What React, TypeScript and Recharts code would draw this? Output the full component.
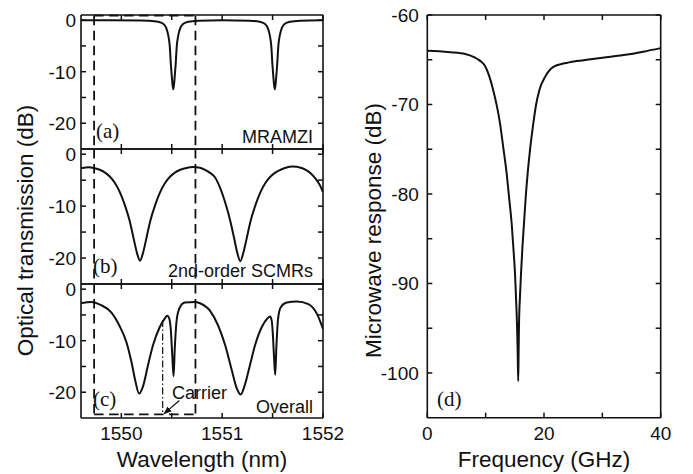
import React from 'react';
import { LineChart, Line, XAxis, YAxis, ReferenceLine } from 'recharts';

// ---------------- data ----------------
const wlTicks = [1550, 1550.5, 1551, 1551.5, 1552];
const wlTickLabels = [1550, 1551, 1552];
const dbTicks = [-20, -15, -10, -5, 0];
const dbTickLabels = [0, -10, -20];

// (a) MRAMZI
const mramziWavelength = [
  1549.6, 1549.9, 1550.2, 1550.265, 1550.365, 1550.415, 1550.445, 1550.465, 1550.48, 1550.492,
  1550.5, 1550.507, 1550.515, 1550.523, 1550.53, 1550.538, 1550.55, 1550.565, 1550.585, 1550.615,
  1550.665, 1550.765, 1551.0, 1551.272, 1551.372, 1551.422, 1551.452, 1551.472, 1551.487, 1551.499,
  1551.507, 1551.514, 1551.522, 1551.53, 1551.537, 1551.545, 1551.557, 1551.572, 1551.592, 1551.622,
  1551.672, 1551.772, 1552.0,
];
const mramziDb = [
  0, 0, -0.05, -0.1, -0.3, -0.7, -1.5, -2.9, -5.0, -8.8,
  -10.8, -12.4, -13.4, -12.4, -10.8, -8.8, -5.0, -2.9, -1.5, -0.7,
  -0.3, -0.1, 0, -0.1, -0.3, -0.7, -1.5, -2.9, -5.0, -8.8,
  -10.8, -12.4, -13.4, -12.4, -10.8, -8.8, -5.0, -2.9, -1.5, -0.7,
  -0.3, -0.1, 0,
];

// (b) 2nd-order SCMRs
const scmrWavelength = [
  1549.6, 1549.68, 1549.735, 1549.785, 1549.835, 1549.885, 1549.935, 1549.985, 1550.035, 1550.085,
  1550.125, 1550.155, 1550.185, 1550.215, 1550.245, 1550.285, 1550.335, 1550.385, 1550.435, 1550.485,
  1550.535, 1550.585, 1550.635, 1550.71, 1550.78, 1550.83, 1550.88, 1550.93, 1550.98, 1551.03,
  1551.08, 1551.12, 1551.15, 1551.18, 1551.21, 1551.24, 1551.28, 1551.33, 1551.38, 1551.43,
  1551.48, 1551.53, 1551.58, 1551.63, 1551.7, 1551.78, 1551.83, 1551.88, 1551.93, 1551.97, 1552.0,
];
const scmrDb = [
  -2.7, -2.5, -2.7, -3.0, -3.5, -4.3, -5.5, -7.3, -9.8, -13.0,
  -16.5, -19.0, -20.5, -19.0, -16.5, -13.0, -9.8, -7.3, -5.5, -4.3,
  -3.5, -3.0, -2.7, -2.45, -2.6, -3.0, -3.6, -4.5, -6.5, -9.3,
  -12.8, -16.3, -19.0, -20.6, -19.0, -16.5, -13.0, -9.8, -7.3, -5.5,
  -4.3, -3.5, -3.0, -2.6, -2.35, -2.6, -3.0, -3.7, -4.8, -6.0, -7.3,
];

// (c) Overall
const overallWavelength = [
  1549.6, 1549.7, 1549.8, 1549.9, 1549.98, 1550.05, 1550.1, 1550.14, 1550.175, 1550.215,
  1550.265, 1550.314, 1550.38, 1550.43, 1550.456, 1550.475, 1550.49, 1550.505, 1550.518, 1550.53,
  1550.55, 1550.58, 1550.63, 1550.73, 1550.78, 1550.88, 1550.96, 1551.03, 1551.095, 1551.144,
  1551.184, 1551.226, 1551.276, 1551.326, 1551.392, 1551.448, 1551.475, 1551.492, 1551.505, 1551.515,
  1551.526, 1551.537, 1551.554, 1551.58, 1551.64, 1551.74, 1551.855, 1551.94, 1552.0,
];
const overallDb = [
  -2.7, -2.47, -3.1, -4.5, -7.05, -10.25, -14.1, -17.9, -20.25, -18.85,
  -14.7, -10.9, -7.4, -5.7, -5.15, -5.7, -7.7, -12.8, -16.9, -11.5,
  -5.8, -3.55, -2.6, -2.47, -2.73, -4.2, -7.05, -10.9, -15.7, -19.2,
  -20.45, -18.5, -14.7, -10.9, -7.4, -5.7, -5.3, -6.2, -9.5, -13.5,
  -16.6, -11.5, -5.8, -3.55, -2.6, -2.4, -2.9, -4.8, -7.7,
];

// markers in the optical panels
const passbandEdges = [1549.73, 1550.735];
const windowTopDb = 0.86;
const windowBottomDb = -24.3;
const carrierWavelength = 1550.41;
const carrierTopDb = -6.0;
const arrowStart = { x: 1550.575, y: -21.6 };
const arrowEnd = { x: 1550.425, y: -24.15 };

// (d) microwave response
const freqTicks = [0, 10, 20, 30, 40];
const freqTickLabels = [0, 20, 40];
const respTicks = [-100, -95, -90, -85, -80, -75, -70, -65, -60];
const respTickLabels = [-100, -90, -80, -70, -60];
const frequencyGHz = [
  0, 2, 4, 6.5, 8, 9, 9.9, 10.6, 11.3, 11.9, 12.46, 13.0, 13.6, 14.0, 14.46, 14.75, 15.03, 15.2,
  15.37, 15.48, 15.58, 15.65, 15.72, 15.88, 16.06, 16.3, 16.57, 16.85, 17.2, 17.65, 18.17, 18.65,
  19.2, 20.2, 21.6, 23.5, 25.5, 28, 31, 34, 37, 40,
];
const microwaveDb = [
  -64.0, -64.05, -64.15, -64.35, -64.7, -65.1, -65.7, -66.8, -68.4, -70.1, -72.1, -74.7, -77.7, -80.3, -83.3, -86.0, -88.9, -91.5,
  -94.5, -97.5, -100.9, -97.8, -94.5, -91.5, -88.9, -86.0, -83.3, -80.5, -77.7, -74.8, -72.1, -70.0,
  -68.4, -66.9, -65.8, -65.4, -65.15, -64.95, -64.7, -64.45, -64.1, -63.7,
];

// ---------------- styling ----------------
const INK = '#111';
const TICK_LEN = 5;
const SANS = '"Liberation Sans", Arial, Helvetica, sans-serif';
const SERIF = '"Liberation Serif", "Times New Roman", serif';
const AXIS_LINE = { stroke: INK, strokeWidth: 1.6 };
const DASH = '9.5 5.5';

const toRows = (xs: number[], ys: number[], xk: string, yk: string) =>
  xs.map((x, i) => ({ [xk]: x, [yk]: ys[i] }));

const mramziData = toRows(mramziWavelength, mramziDb, 'wl', 'db');
const scmrData = toRows(scmrWavelength, scmrDb, 'wl', 'db');
const overallData = toRows(overallWavelength, overallDb, 'wl', 'db');
const microwaveData = toRows(frequencyGHz, microwaveDb, 'f', 'db');

// ---------------- ticks ----------------
function LeftTick(props: any) {
  const { x, y, payload, labels, gap } = props;
  const show = labels.includes(payload.value);
  return (
    <g>
      <line x1={x} y1={y} x2={x + TICK_LEN} y2={y} stroke={INK} strokeWidth={1.5} />
      {show && (
        <text x={x - gap} y={y + 7} textAnchor="end" fontFamily={SANS} fontSize={19} fill={INK}>
          {payload.value}
        </text>
      )}
    </g>
  );
}
function RightTick(props: any) {
  const { x, y } = props;
  return <line x1={x} y1={y} x2={x - TICK_LEN} y2={y} stroke={INK} strokeWidth={1.5} />;
}
function BottomTick(props: any) {
  const { x, y, payload, labels } = props;
  const show = labels.includes(payload.value);
  return (
    <g>
      <line x1={x} y1={y} x2={x} y2={y - TICK_LEN} stroke={INK} strokeWidth={1.5} />
      {show && (
        <text x={x} y={y + 22} textAnchor="middle" fontFamily={SANS} fontSize={19} fill={INK}>
          {payload.value}
        </text>
      )}
    </g>
  );
}
function TopTick(props: any) {
  const { x, y } = props;
  return <line x1={x} y1={y} x2={x} y2={y + TICK_LEN} stroke={INK} strokeWidth={1.5} />;
}

// ---------------- optical panel ----------------
const WL_DOMAIN: [number, number] = [1549.6, 1552];
const DB_DOMAIN: [number, number] = [-25, 1];
const LEFT_W = 362;
const LEFT_RIGHT_AXIS_W = 39;

function OpticalPanel(props: {
  data: any[];
  top: number;
  height: number;
  topH: number;
  bottomH: number;
  showXLabels: boolean;
  children?: React.ReactNode;
}) {
  const { data, top, height, topH, bottomH, showXLabels, children } = props;
  return (
    <div style={{ position: 'absolute', left: 0, top, width: LEFT_W, height }}>
      <LineChart width={LEFT_W} height={height} data={data} margin={{ top: 0, right: 0, bottom: 0, left: 0 }}>
        <XAxis
          xAxisId="b"
          dataKey="wl"
          type="number"
          domain={WL_DOMAIN}
          allowDataOverflow
          ticks={wlTicks}
          interval={0}
          height={bottomH}
          tickSize={0}
          tickMargin={0}
          tickLine={false}
          axisLine={AXIS_LINE}
          tick={(p: any) => <BottomTick {...p} labels={showXLabels ? wlTickLabels : []} />}
        />
        <XAxis
          xAxisId="t"
          orientation="top"
          dataKey="wl"
          type="number"
          domain={WL_DOMAIN}
          allowDataOverflow
          ticks={wlTicks}
          interval={0}
          height={topH}
          tickSize={0}
          tickMargin={0}
          tickLine={false}
          axisLine={AXIS_LINE}
          tick={(p: any) => <TopTick {...p} />}
        />
        <YAxis
          yAxisId="l"
          type="number"
          domain={DB_DOMAIN}
          allowDataOverflow
          ticks={dbTicks}
          interval={0}
          width={81}
          tickSize={0}
          tickMargin={0}
          tickLine={false}
          axisLine={AXIS_LINE}
          tick={(p: any) => <LeftTick {...p} labels={dbTickLabels} gap={5} />}
        />
        <YAxis
          yAxisId="r"
          orientation="right"
          type="number"
          domain={DB_DOMAIN}
          allowDataOverflow
          ticks={dbTicks}
          interval={0}
          width={LEFT_RIGHT_AXIS_W}
          tickSize={0}
          tickMargin={0}
          tickLine={false}
          axisLine={AXIS_LINE}
          tick={(p: any) => <RightTick {...p} />}
        />
        {children}
        <Line
          xAxisId="b"
          yAxisId="l"
          dataKey="db"
          type="monotone"
          stroke={INK}
          strokeWidth={2}
          dot={false}
          isAnimationActive={false}
        />
      </LineChart>
    </div>
  );
}

const dashProps = { xAxisId: 'b', yAxisId: 'l', stroke: INK, strokeWidth: 1.8, strokeDasharray: DASH } as any;

export default function App() {
  return (
    <div style={{ position: 'absolute', left: 0, top: 0, width: 693, height: 474, background: '#fff', overflow: 'hidden' }}>
      {/* (d) */}
      <div style={{ position: 'absolute', left: 340, top: 0, width: 353, height: 460 }}>
        <LineChart width={353} height={460} data={microwaveData} margin={{ top: 0, right: 0, bottom: 0, left: 0 }}>
          <XAxis
            xAxisId="b"
            dataKey="f"
            type="number"
            domain={[0, 40]}
            allowDataOverflow
            ticks={freqTicks}
            interval={0}
            height={42.3}
            tickSize={0}
            tickMargin={0}
            tickLine={false}
            axisLine={AXIS_LINE}
            tick={(p: any) => <BottomTick {...p} labels={freqTickLabels} />}
          />
          <XAxis
            xAxisId="t"
            orientation="top"
            dataKey="f"
            type="number"
            domain={[0, 40]}
            allowDataOverflow
            ticks={freqTicks}
            interval={0}
            height={15}
            tickSize={0}
            tickMargin={0}
            tickLine={false}
            axisLine={AXIS_LINE}
            tick={(p: any) => <TopTick {...p} />}
          />
          <YAxis
            yAxisId="l"
            type="number"
            domain={[-105, -60]}
            allowDataOverflow
            ticks={respTicks}
            interval={0}
            width={87.3}
            tickSize={0}
            tickMargin={0}
            tickLine={false}
            axisLine={AXIS_LINE}
            tick={(p: any) => <LeftTick {...p} labels={respTickLabels} gap={8.5} />}
          />
          <YAxis
            yAxisId="r"
            orientation="right"
            type="number"
            domain={[-105, -60]}
            allowDataOverflow
            ticks={respTicks}
            interval={0}
            width={32.3}
            tickSize={0}
            tickMargin={0}
            tickLine={false}
            axisLine={AXIS_LINE}
            tick={(p: any) => <RightTick {...p} />}
          />
          <Line
            xAxisId="b"
            yAxisId="l"
            dataKey="db"
            type="monotone"
            stroke={INK}
            strokeWidth={2}
            dot={false}
            isAnimationActive={false}
          />
        </LineChart>
      </div>

      {/* (a) */}
      <OpticalPanel data={mramziData} top={0} height={151} topH={15} bottomH={2} showXLabels={false}>
        {passbandEdges.map((e) => (
          <ReferenceLine key={'a' + e} {...dashProps} segment={[{ x: e, y: windowTopDb }, { x: e, y: -25 }]} />
        ))}
        <ReferenceLine
          {...dashProps}
          segment={[{ x: passbandEdges[0], y: windowTopDb }, { x: passbandEdges[1], y: windowTopDb }]}
        />
      </OpticalPanel>
      {/* (b) */}
      <OpticalPanel data={scmrData} top={135} height={151} topH={14} bottomH={2} showXLabels={false}>
        {passbandEdges.map((e) => (
          <ReferenceLine key={'b' + e} {...dashProps} segment={[{ x: e, y: 1 }, { x: e, y: -25 }]} />
        ))}
      </OpticalPanel>
      {/* (c) */}
      <OpticalPanel data={overallData} top={270} height={200} topH={14} bottomH={52} showXLabels={true}>
        {passbandEdges.map((e) => (
          <ReferenceLine key={'c' + e} {...dashProps} segment={[{ x: e, y: 1 }, { x: e, y: windowBottomDb }]} />
        ))}
        <ReferenceLine
          {...dashProps}
          segment={[{ x: passbandEdges[0], y: windowBottomDb }, { x: passbandEdges[1], y: windowBottomDb }]}
        />
        <ReferenceLine
          xAxisId="b"
          yAxisId="l"
          stroke={INK}
          strokeWidth={1.2}
          strokeDasharray="7 2.5 1.5 2.5"
          segment={[{ x: carrierWavelength, y: carrierTopDb }, { x: carrierWavelength, y: windowBottomDb }]}
        />
        <ReferenceLine
          xAxisId="b"
          yAxisId="l"
          stroke={INK}
          strokeWidth={1.2}
          segment={[arrowStart, arrowEnd]}
          shape={(p: any) => <line {...p} markerEnd="url(#arrowHead)" />}
        />
      </OpticalPanel>

      {/* titles and annotations */}
      <svg
        width={693}
        height={474}
        style={{ position: 'absolute', left: 0, top: 0, pointerEvents: 'none' }}
      >
        <defs>
          <marker
            id="arrowHead"
            viewBox="0 0 10 10"
            refX="9"
            refY="5"
            markerWidth="8"
            markerHeight="8"
            markerUnits="userSpaceOnUse"
            orient="auto"
          >
            <path d="M0,1 L10,5 L0,9 z" fill={INK} />
          </marker>
        </defs>
        <g fontFamily={SANS} fill={INK}>
          <text transform="translate(33,230.5) rotate(-90)" textAnchor="middle" fontSize={22.5}>
            Optical transmission (dB)
          </text>
          <text transform="translate(381,230.5) rotate(-90)" textAnchor="middle" fontSize={22.5}>
            Microwave response (dB)
          </text>
          <text x={202} y={467} textAnchor="middle" fontSize={22.5}>
            Wavelength (nm)
          </text>
          <text x={544} y={467} textAnchor="middle" fontSize={22.5}>
            Frequency (GHz)
          </text>
          <text x={313} y={143} textAnchor="end" fontSize={18}>
            MRAMZI
          </text>
          <text x={313} y={277} textAnchor="end" fontSize={18}>
            2nd-order SCMRs
          </text>
          <text x={172} y={399} fontSize={18}>
            Carrier
          </text>
          <text x={313} y={413} textAnchor="end" fontSize={18}>
            Overall
          </text>
        </g>
        <g fontFamily={SERIF} fill={INK} fontSize={21}>
          <text x={96} y={138}>(a)</text>
          <text x={93} y={273}>(b)</text>
          <text x={93} y={406}>(c)</text>
          <text x={437} y={406}>(d)</text>
        </g>
      </svg>
    </div>
  );
}
